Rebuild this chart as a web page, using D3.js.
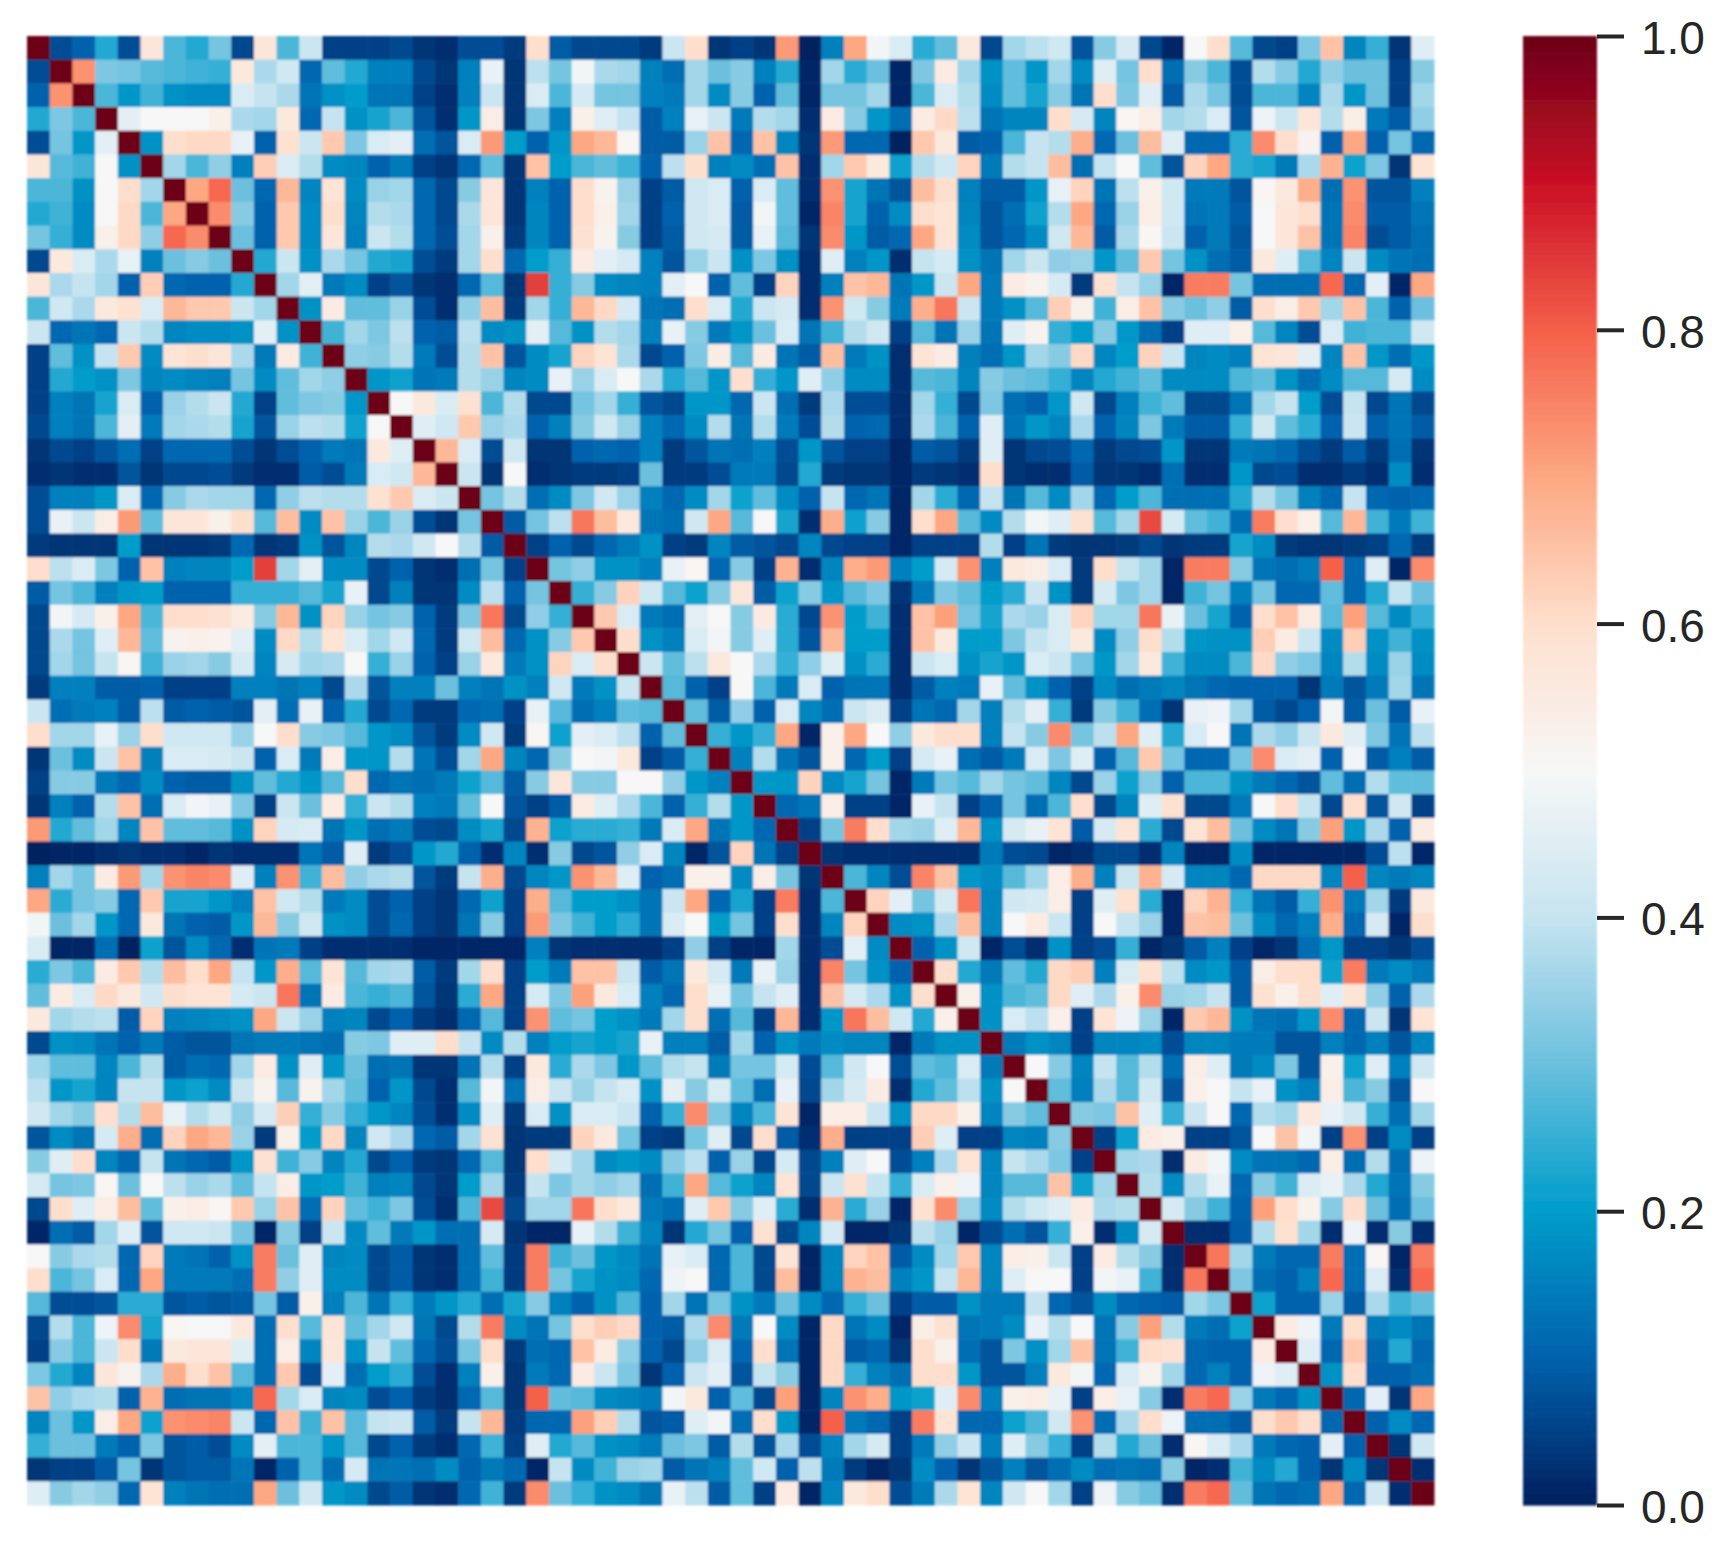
<!DOCTYPE html>
<html>
<head>
<meta charset="utf-8">
<script src="https://cdn.jsdelivr.net/npm/d3@7"></script>
<style>
  html, body { margin: 0; padding: 0; background: #fff; }
  svg { display: block; }
  text { font-family: "Liberation Sans", Arial, sans-serif; }
</style>
</head>
<body>
<div id="chart"></div>
<script>
// upper triangle of the matrix, values in hundredths, each row starts right of the diagonal
const row00 = [7,10,23,7,57,27,23,31,6,57,27,41,5,5,5, 6,3,2,7,7,4,60,9,6,6,6,4,41,60,3, 5,3,72,0,15,70,49,44,24,29,56,6,36,39,42, 8,33,43,6,1,50,60,28,6,5,32,65,16,25,3,45];
const row01 = [73,32,31,28,27,26,25,56,37,42,11,29,23,15, 15,6,3,15,47,3,39,31,49,37,36,15,12,36,30, 33,15,23,1,36,24,30,1,32,55,36,18,29,19,36, 17,45,31,60,12,33,27,7,38,33,23,34,30,30,5,33];
const row02 = [27,19,26,18,17,17,44,40,37,13,18,20,13, 13,5,2,15,41,3,44,27,43,31,31,15,14,36,17, 33,10,29,1,31,31,36,1,27,44,38,17,29,22,33, 13,60,32,45,9,37,31,7,27,27,16,37,19,30,5,36];
const row03 = [46,50,50,50,53,37,36,56,11,40,18,22, 27,8,2,19,54,3,32,15,53,45,40,9,15,47,41, 14,38,36,2,55,33,19,12,55,61,39,13,16,16,60, 43,16,51,54,36,38,44,8,48,41,57,38,54,14,9,34];
const row04 = [18,60,61,61,47,10,59,41,64,32,44, 46,12,8,44,72,20,10,19,70,67,51,9,9,35,65, 11,65,16,3,72,11,11,0,64,56,9,10,27,40,38, 69,11,30,66,45,11,11,24,74,60,52,10,70,10,31,11];
const row05 = [36,27,34,15,63,44,38,17,16,10, 14,5,3,11,29,3,65,20,27,29,26,10,39,60,15, 17,12,65,2,36,64,56,21,38,42,62,14,38,40,66, 12,40,50,29,8,62,70,24,22,14,37,68,21,32,3,58];
const row06 = [70,79,30,11,67,16,58,17,35, 36,11,6,33,57,3,15,10,60,52,35,5,9,42,44, 10,44,29,2,73,22,13,8,66,60,15,9,9,19,47, 62,13,39,53,42,14,14,8,51,56,69,12,73,8,8,15];
const row07 = [74,33,10,64,17,60,16,38, 37,11,6,37,57,3,16,10,60,53,36,5,10,42,44, 9,49,29,1,75,22,10,17,60,58,16,8,12,21,38, 70,11,35,54,42,13,14,9,50,57,60,13,74,9,9,13];
const row08 = [30,10,64,17,57,15,41, 38,11,7,36,53,4,16,10,59,52,33,5,9,42,43, 9,47,28,3,74,19,9,11,70,58,17,8,11,17,42, 67,9,37,51,41,10,14,8,50,57,65,13,75,7,9,12];
const row09 = [23,41,18,37,31,23, 22,7,4,36,60,11,20,25,55,46,43,15,8,35,41, 18,32,18,2,45,15,19,2,40,43,18,13,36,41,34, 35,19,29,64,31,18,12,9,56,45,28,16,41,17,13,12];
const row10 = [36,46,14,17,5, 8,3,2,11,28,3,84,25,33,17,16,15,46,50,10, 29,5,62,2,15,65,67,13,19,41,70,14,55,52,43, 4,59,40,35,1,76,76,31,12,12,12,79,11,46,1,70];
const row11 = [18,55,29,29, 35,7,2,34,66,4,36,25,67,61,43,13,12,60,44, 23,41,43,2,73,42,33,14,69,77,41,14,18,28,63, 53,26,54,65,33,30,34,9,60,54,64,36,65,27,10,30];
const row12 = [26,36,32, 39,10,9,39,17,18,46,28,18,38,36,15,47,33,14, 19,30,44,13,26,38,42,5,28,13,35,13,45,52,25, 20,33,19,12,5,45,45,53,28,16,7,44,26,27,27,42];
const row13 = [34,33, 38,14,7,38,65,8,17,22,62,58,37,6,10,32,54, 28,55,13,9,66,14,18,2,58,55,15,12,19,36,33, 61,16,20,62,41,16,17,15,58,57,46,16,65,19,12,19];
const row14 = [19, 21,13,14,38,35,16,17,47,35,44,50,37,23,28,19, 60,25,19,45,34,17,17,2,28,27,16,33,30,29,25, 16,23,26,29,17,17,17,27,29,18,12,17,28,28,43,17];
const row15 = [50,56,44,59,27,38,6,6,31,36,25,8,6,19,19, 11,41,12,4,37,7,7,2,36,25,6,32,12,10,19, 42,6,15,26,29,6,6,13,36,40,20,7,40,6,13,6];
const row16 = [45,42,64,35,37,10,15,33,42,35,15,11,17,38, 13,38,14,7,38,10,11,2,37,27,10,45,13,19,16, 37,10,16,32,14,9,9,25,42,29,24,10,41,10,13,9];
const row17 = [67,44,7,42,3,3,10,11,10,15,4,8,13, 12,15,7,19,8,5,5,1,9,8,4,45,3,6,7, 11,4,6,7,19,3,3,14,13,11,7,4,9,4,12,3];
const row18 = [41,3,50,2,3,4,4,5,30,4,4,7, 14,14,6,23,4,3,3,1,4,3,2,60,3,2,2, 9,3,3,2,12,2,2,19,6,7,2,2,4,2,17,2];
const row19 = [31,38,12,17,32,42,35,15,11,17,36, 21,29,17,10,40,11,13,1,36,24,11,40,13,28,17, 36,11,20,27,12,12,12,23,38,31,15,11,40,11,10,11];
const row20 = [9,31,39,77,66,56,13,12,42,70, 28,50,22,2,69,21,33,1,60,70,28,17,38,49,45, 59,28,36,83,43,29,26,12,76,60,53,28,67,26,14,26];
const row21 = [5,10,6,11,14,18,5,4,16, 9,8,6,16,6,5,5,1,5,5,5,38,5,13,4, 3,3,4,6,3,4,4,22,17,4,3,3,4,5,11,4];
const row22 = [31,34,18,18,15,47,51,11, 33,5,68,2,16,69,72,15,20,43,73,15,56,54,44, 4,60,40,36,1,76,76,33,13,12,14,80,11,45,1,74];
const row23 = [25,33,62,42,28,21,33, 57,9,21,33,19,28,32,3,14,32,29,20,24,41,18, 4,43,32,36,1,26,31,15,31,11,11,29,11,23,40,30];
const row24 = [64,44,14,12,46,50, 33,55,24,6,73,20,26,2,65,71,31,22,37,35,44, 62,36,36,77,47,30,22,10,60,65,55,28,71,28,17,25];
const row25 = [60,18,15,44,49, 33,45,24,8,67,20,20,2,65,56,20,20,32,40,44, 56,17,34,60,38,19,18,18,63,55,41,17,63,18,26,18];
const row26 = [41,29,39,56, 50,37,25,34,45,18,24,2,41,44,18,22,19,44,41, 31,19,36,56,26,17,17,27,61,34,32,16,38,17,35,17];
const row27 = [28,10,5, 50,27,14,44,10,13,13,2,9,15,14,47,29,18,10, 5,17,12,14,16,13,11,10,10,10,3,14,8,14,36,13];
const row28 = [29,9, 34,10,44,16,12,41,44,5,13,11,36,15,38,46,25, 4,33,26,12,3,47,48,36,9,6,10,49,9,30,9,47];
const row29 = [25, 19,25,70,1,53,70,50,34,56,60,60,15,40,33,74, 31,39,70,45,23,44,50,13,37,34,41,56,45,32,13,39];
const row30 = [15,38,13,8,53,11,20,5,43,47,12,9,14,44,32, 45,10,28,64,31,11,11,31,74,44,46,10,49,9,15,9];
const row31 = [19,19,62,17,22,31,1,14,31,28,36,31,29,16, 6,35,21,33,10,27,27,18,14,11,8,29,12,38,29,29];
const row32 = [11,13,54,5,5,1,47,40,5,10,31,12,27, 60,6,16,45,59,6,6,14,50,60,40,6,60,8,42,5];
const row33 = [5,31,76,60,36,35,45,67,18,43,47,58, 9,43,58,24,6,58,66,30,17,13,33,71,19,37,10,55];
const row34 = [3,2,2,2,2,2,2,14,7,6,1, 2,6,6,2,16,1,1,17,1,1,1,1,1,7,39,1];
const row35 = [27,16,7,75,65,19,17,28,36,54, 69,15,41,68,43,16,16,11,61,61,61,16,80,16,14,16];
const row36 = [62,46,31,43,77,16,42,43,54, 5,45,59,24,1,62,68,25,13,9,25,73,14,36,4,56];
const row37 = [17,18,37,66,16,50,55,41, 5,50,40,35,1,65,66,30,17,11,15,69,11,43,1,60];
const row38 = [10,18,42,1,7,2,18, 5,7,25,1,3,9,15,5,1,3,12,19,5,5,3,7];
const row39 = [60,23,14,29,23,61, 63,15,44,59,39,17,19,9,54,60,60,21,76,14,17,14];
const row40 = [53,18,27,29,61, 45,37,53,74,35,36,40,9,59,53,60,45,58,34,10,37];
const row41 = [18,44,39,53, 5,58,48,35,1,64,67,18,13,12,19,74,11,41,3,58];
const row42 = [14,18,16, 5,16,16,17,7,16,16,14,14,8,8,15,11,15,8,16];
const row43 = [50,33, 16,40,28,38,12,54,45,14,17,32,8,53,21,45,15,42];
const row44 = [29, 15,37,28,42,8,53,50,40,47,18,15,54,27,33,8,50];
const row45 = [33,32,65,45,25,41,50,11,38,36,56,47,42,25,12,36];
const row46 = [5,21,55,53,5,5,8,50,65,49,5,73,5,17,5];
const row47 = [36,37,2,55,49,17,13,13,11,54,12,38,12,48];
const row48 = [38,17,38,47,11,33,26,44,47,37,23,13,33];
const row49 = [43,33,26,10,71,60,52,33,60,30,12,30];
const row50 = [2,2,9,38,59,36,2,48,2,33,2];
const row51 = [77,36,14,11,11,76,12,51,1,76];
const row52 = [32,12,10,15,79,12,44,2,79];
const row53 = [21,10,10,35,9,37,26,29];
const row54 = [55,48,14,60,14,17,13];
const row55 = [45,11,64,11,23,11];
const row56 = [18,60,10,10,12];
const row57 = [11,46,3,70];
const row58 = [10,17,11];
const row59 = [3,42];
const row60 = [2];

const upperRows = [row00,row01,row02,row03,row04,row05,row06,row07,row08,row09,
  row10,row11,row12,row13,row14,row15,row16,row17,row18,row19,
  row20,row21,row22,row23,row24,row25,row26,row27,row28,row29,
  row30,row31,row32,row33,row34,row35,row36,row37,row38,row39,
  row40,row41,row42,row43,row44,row45,row46,row47,row48,row49,
  row50,row51,row52,row53,row54,row55,row56,row57,row58,row59,row60];

const colorStops = [0, 0.1, 0.2, 0.3, 0.4, 0.5, 0.6, 0.7, 0.8, 0.9, 1];
const colorValues = ['#00205f','#0062ad','#009dcb','#6cc0de','#c6e4f0','#f7f7f7','#fedfcd','#fda882','#f5604a','#cb1025','#6c0018'];
const barTicks = [0, 0.2, 0.4, 0.6, 0.8, 1];

const n = upperRows.length + 1;
upperRows.forEach((r, i) => {
  if (r.length !== n - 1 - i) console.warn('row length', i, r.length);
});

// 对称矩阵展开
const cells = [];
for (let i = 0; i < n; i++) {
  cells.push({ row: i, col: i, value: 1 });
  for (let j = i + 1; j < n; j++) {
    const v = upperRows[i][j - i - 1] / 100;
    cells.push({ row: i, col: j, value: v });
    cells.push({ row: j, col: i, value: v });
  }
}

const color = d3.scaleLinear().domain(colorStops).range(colorValues).interpolate(d3.interpolateRgb);

const svg = d3.select('#chart').append('svg').attr('width', 1721).attr('height', 1544);

svg.append('defs').append('filter').attr('id', 'soft')
  .attr('x', '-2%').attr('y', '-2%').attr('width', '104%').attr('height', '104%')
  .append('feGaussianBlur').attr('stdDeviation', 0.8);

const x = d3.scaleBand().domain(d3.range(n)).range([27, 1434]);
const y = d3.scaleBand().domain(d3.range(n)).range([36, 1505]);

svg.append('g').attr('filter', 'url(#soft)')
  .selectAll('rect').data(cells).join('rect')
  .attr('x', d => x(d.col))
  .attr('y', d => y(d.row))
  .attr('width', x.bandwidth() + 0.5)
  .attr('height', y.bandwidth() + 0.5)
  .attr('fill', d => color(d.value));

// colorbar
const barScale = d3.scaleLinear().domain([0, 1]).range([1505, 36]);
const barSteps = d3.range(0, 256).map(k => k / 255);
const barStepH = (barScale(0) - barScale(1)) / 256;

svg.append('g').attr('filter', 'url(#soft)')
  .selectAll('rect').data(barSteps).join('rect')
  .attr('x', 1523)
  .attr('y', (d, k) => barScale(1) + (255 - k) * barStepH)
  .attr('width', 74)
  .attr('height', barStepH + 0.6)
  .attr('fill', d => color(d));

const barAxis = d3.axisRight(barScale)
  .tickValues(barTicks)
  .tickFormat(d3.format('.1f'))
  .tickSize(27)
  .tickPadding(17);

const axisG = svg.append('g').attr('transform', 'translate(1597,0)').call(barAxis);
axisG.select('.domain').remove();
axisG.selectAll('line').attr('stroke', '#262626').attr('stroke-width', 4);
axisG.selectAll('text').attr('font-size', 46).attr('fill', '#262626')
  .attr('dy', '0.38em')
  .style('font-family', '"Liberation Sans", Arial, sans-serif');
</script>
</body>
</html>
